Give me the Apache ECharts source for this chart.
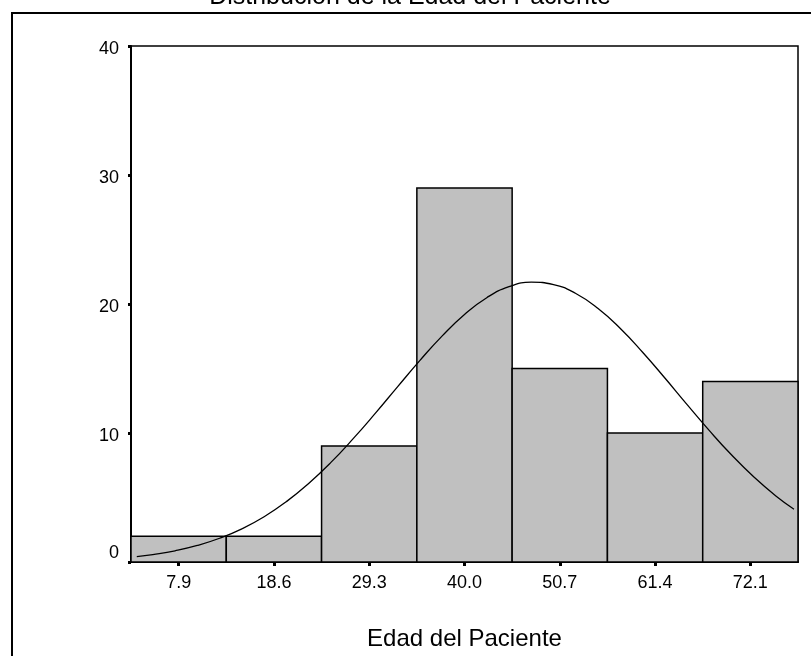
<!DOCTYPE html>
<html>
<head>
<meta charset="utf-8">
<script src="https://cdn.jsdelivr.net/npm/echarts@6/dist/echarts.min.js"></script>
<style>html,body{margin:0;padding:0;background:#fff;}#c{width:811px;height:656px;}</style>
</head>
<body>
<div id="c"></div>
<script>
// Histogram bin midpoints (Edad del Paciente) and frequencies
const binCenters = [7.9, 18.6, 29.3, 40.0, 50.7, 61.4, 72.1];
const binCounts = [2, 2, 9, 29, 15, 10, 14];
const xTickLabels = ['7.9', '18.6', '29.3', '40.0', '50.7', '61.4', '72.1'];
const yTicks = [0, 10, 20, 30, 40];
// Normal curve (age, frequency)
const curveAges = [3.2, 5, 7.5, 10, 12.5, 15, 17.5, 20, 22.5, 25, 27.5, 30, 32.5, 35, 37.5, 40, 42.5, 45, 47.5, 50, 52.5, 55, 57.5, 60, 62.5, 65, 67.5, 70, 72.5, 75, 77];
const curveFreq = [0.42, 0.58, 0.87, 1.28, 1.84, 2.57, 3.51, 4.68, 6.09, 7.72, 9.56, 11.54, 13.6, 15.63, 17.53, 19.19, 20.49, 21.34, 21.69, 21.51, 20.81, 19.65, 18.1, 16.26, 14.26, 12.2, 10.18, 8.29, 6.59, 5.1, 4.09];

const binWidth = binCenters[1] - binCenters[0];
const xMin = binCenters[0] - binWidth / 2;
const xMax = binCenters[binCenters.length - 1] + binWidth / 2;

const chart = echarts.init(document.getElementById('c'), null, {renderer: 'canvas'});
const font = 'Liberation Sans, Arial, sans-serif';

chart.setOption({
  animation: false,
  backgroundColor: '#fff',
  graphic: [
    {type: 'rect', shape: {x: 12, y: 13, width: 900, height: 800}, style: {fill: 'none', stroke: '#000', lineWidth: 2}, z: 0},
    {type: 'text', x: 410, y: -15, style: {text: 'Distribución de la Edad del Paciente', font: '25px ' + font, fill: '#000', textAlign: 'center', textVerticalAlign: 'top'}}
  ],
  grid: {left: 131, top: 46, right: 13, bottom: 93, show: true, borderColor: '#000', borderWidth: 1.5, backgroundColor: 'transparent'},
  xAxis: {
    type: 'value', min: xMin, max: xMax,
    name: 'Edad del Paciente', nameLocation: 'middle', nameGap: 65,
    nameTextStyle: {fontFamily: font, fontSize: 24, color: '#000'},
    axisLine: {show: true, lineStyle: {color: '#000', width: 2}},
    axisTick: {show: true, customValues: binCenters, length: 4, lineStyle: {color: '#000', width: 3}},
    axisLabel: {customValues: binCenters, formatter: v => xTickLabels[binCenters.indexOf(+v.toFixed(1))] ?? v, fontFamily: font, fontSize: 18, color: '#000', margin: 12},
    splitLine: {show: false}
  },
  yAxis: {
    type: 'value', min: 0, max: 40, interval: 10,
    axisLine: {show: true, lineStyle: {color: '#000', width: 2}},
    axisTick: {show: true, length: 3, lineStyle: {color: '#000', width: 3}},
    axisLabel: {
      fontFamily: font, fontSize: 18, color: '#000', margin: 12,
      formatter: v => v === 0 ? '{z|0}' : '{n|' + v + '}',
      rich: {z: {fontFamily: font, fontSize: 18, color: '#000', padding: [0, 0, 18, 0]}, n: {fontFamily: font, fontSize: 18, color: '#000', padding: [6, 0, 0, 0]}}
    },
    splitLine: {show: false}
  },
  series: [
    {
      type: 'custom',
      data: binCenters.map((c, i) => [c, binCounts[i]]),
      renderItem: function (params, api) {
        const c = api.value(0), v = api.value(1);
        const p0 = api.coord([c - binWidth / 2, v]);
        const p1 = api.coord([c + binWidth / 2, 0]);
        return {type: 'rect', shape: {x: p0[0], y: p0[1], width: p1[0] - p0[0], height: p1[1] - p0[1]}, style: {fill: '#c0c0c0', stroke: '#000', lineWidth: 1.5}};
      },
      z: 2
    },
    {
      type: 'line',
      data: curveAges.map((a, i) => [a, curveFreq[i]]),
      smooth: true, showSymbol: false, symbol: 'none',
      lineStyle: {color: '#000', width: 1.3},
      z: 3
    }
  ]
});
</script>
</body>
</html>
